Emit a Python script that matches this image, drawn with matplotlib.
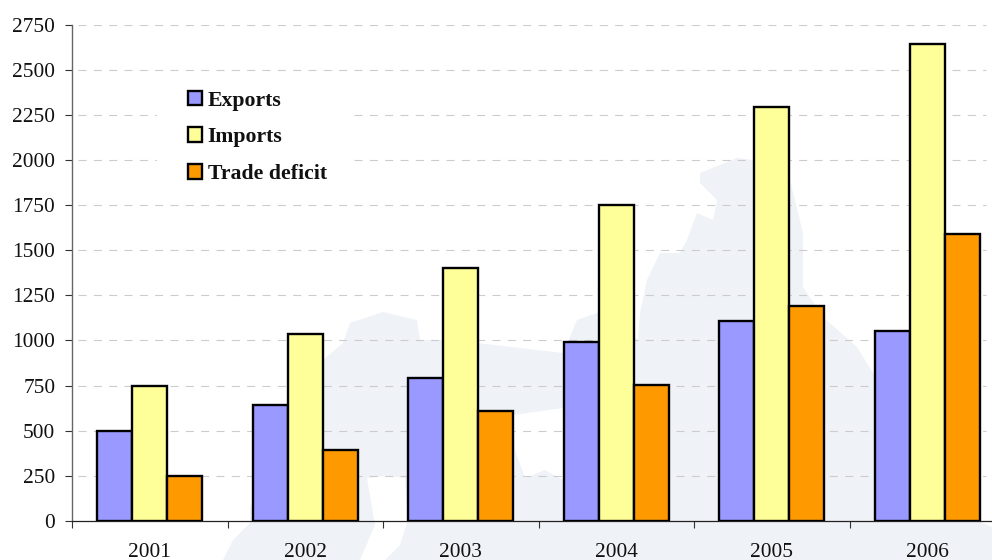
import matplotlib
matplotlib.use("Agg")
import matplotlib.pyplot as plt
from matplotlib.patches import Polygon, Rectangle

years = ["2001", "2002", "2003", "2004", "2005", "2006"]
exports = [500, 640, 790, 990, 1105, 1050]
imports = [750, 1035, 1400, 1750, 2295, 2640]
deficit = [250, 395, 610, 755, 1190, 1590]
yticks = list(range(0, 2751, 250))

W, H = 992, 560
LEFT, RIGHT, TOP, BOTTOM = 72, 1005, 24.5, 521
WM = "#eff2f7"

plt.rcParams["font.family"] = ["Liberation Serif", "DejaVu Serif"]
fig = plt.figure(figsize=(W / 100, H / 100), dpi=100, facecolor="white")
ax = fig.add_axes([LEFT / W, 1 - BOTTOM / H, (RIGHT - LEFT) / W, (BOTTOM - TOP) / H])
ax.patch.set_visible(False)


def px(points):
    return [(x / W, 1 - y / H) for x, y in points]


# Faint map watermark behind the chart (figure pixel outline)
land = [(223, 560), (233, 540), (250, 523), (250, 507), (285, 440), (323, 360), (343, 343),
        (350, 323), (383, 312), (417, 320), (420, 340), (440, 340), (477, 343), (563, 353),
        (577, 320), (600, 312), (638, 340), (640, 313), (647, 280), (660, 253), (680, 253),
        (687, 240), (697, 213), (713, 220), (717, 200), (700, 183), (700, 173), (737, 158),
        (753, 160), (790, 180), (803, 233), (803, 287), (823, 317), (857, 347), (873, 373),
        (980, 440), (981, 522), (992, 527), (992, 560)]
holes = [[(367, 478), (385, 476), (405, 478), (408, 520), (400, 545), (385, 560), (360, 560), (375, 525)],
         [(513, 415), (563, 408), (563, 480), (545, 470), (525, 478), (515, 450)]]
fig.add_artist(Polygon(px(land), closed=True, fc=WM, ec="none", zorder=-5))
for h in holes:
    fig.add_artist(Polygon(px(h), closed=True, fc="white", ec="none", zorder=-4))

n = len(years)
bw = 34.9 / ((RIGHT - LEFT) / n)
xs = list(range(n))
style = dict(width=bw, edgecolor="black", linewidth=1.7, zorder=3)
b1 = ax.bar([x - bw for x in xs], exports, color="#9999ff", label="Exports", **style)
b2 = ax.bar(xs, imports, color="#ffff99", label="Imports", **style)
b3 = ax.bar([x + bw for x in xs], deficit, color="#ff9900", label="Trade deficit", **style)

ax.set_xlim(-0.5, n - 0.5)
ax.set_ylim(0, 2750)
ax.hlines(yticks[1:], 0, (986 - LEFT) / (RIGHT - LEFT), transform=ax.get_yaxis_transform(),
          colors="#cccccc", linewidth=0.8, linestyles=(8.4, (7.2, 6.6)), zorder=1)

ax.set_yticks(yticks)
ax.set_xticks([x - 0.5 for x in range(n + 1)], labels=[])
ax.set_xticks(xs, labels=years, minor=True)
ax.tick_params(axis="x", which="major", length=5, width=0.8, color="#333333", direction="out")
ax.tick_params(axis="x", which="minor", length=0, pad=16, labelsize=15.4, labelcolor="#111111")
ax.tick_params(axis="y", length=5, width=0.8, color="#333333", pad=7, labelsize=15.4, labelcolor="#111111")
for s in ("top", "right"):
    ax.spines[s].set_visible(False)
ax.spines["bottom"].set_linewidth(0.9)
ax.spines["bottom"].set_color("#222222")
ax.spines["left"].set_linewidth(1.0)
ax.spines["left"].set_color("#666666")
ax.spines["left"].set_bounds(0, 2750)

# White legend panel interrupting the gridlines
ax.add_patch(Rectangle((157 / W, 1 - 203 / H), 196 / W, 131 / H, transform=fig.transFigure,
                       fc="white", ec="none", zorder=2))
leg = fig.legend(handles=[b1, b2, b3], loc="upper left", bbox_to_anchor=(188 / W, 1 - 90.5 / H),
                 borderaxespad=0, borderpad=0, frameon=False, handlelength=0.66, handleheight=0.66,
                 handletextpad=0.24, labelspacing=0.77,
                 prop={"family": "Liberation Serif", "weight": "bold", "size": 15.7})
leg.set_zorder(5)
for t in leg.get_texts():
    t.set_color("#111111")

fig.savefig("out.png", dpi=100, facecolor="white")
